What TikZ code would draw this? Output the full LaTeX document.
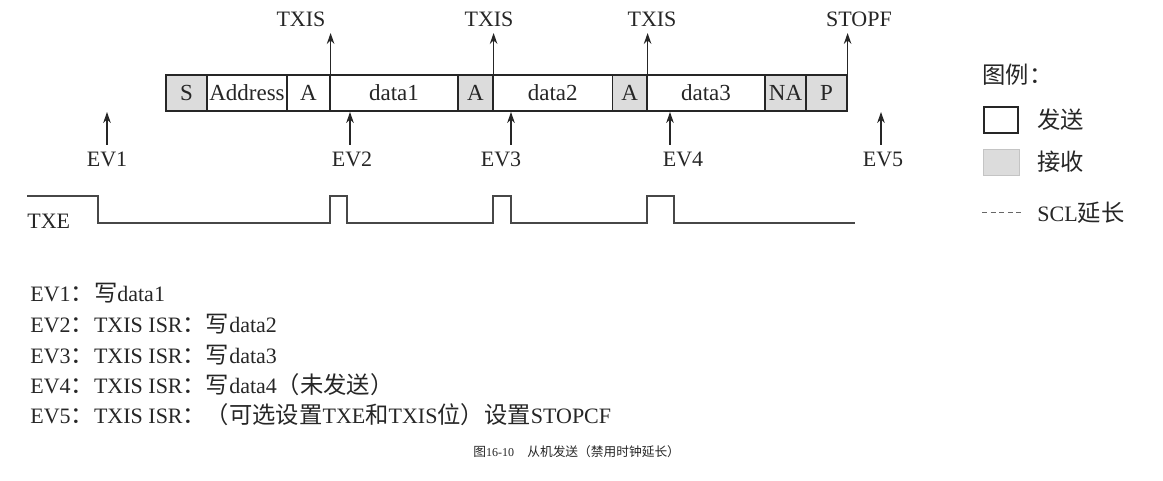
\documentclass[tikz,border=0pt]{standalone}
\usepackage{fontspec}
\setmainfont{Liberation Serif}
\newfontfamily\cjkfont[Scale=1.06]{Noto Sans CJK SC}
\newcommand\zh[1]{{\cjkfont #1}}
\usetikzlibrary{arrows.meta}
\definecolor{ink}{HTML}{262626}
\definecolor{rxgray}{HTML}{DCDCDC}
\definecolor{lightedge}{HTML}{C4C4C4}
\begin{document}
\begin{tikzpicture}[x=0.5pt,y=-0.5pt,
  font=\fontsize{11}{13}\selectfont, text=ink,
  cell/.style={draw=ink, line width=0.6pt, minimum height=18pt, inner sep=0pt, anchor=center, font=\fontsize{11.5}{13}\selectfont},
  txcell/.style={cell, fill=white},
  rxcell/.style={cell, fill=rxgray},
  arr/.style={draw=ink, line width=0.6pt, -{Stealth[length=5.5pt,width=3.8pt]}},
  lbl/.style={inner sep=0pt, anchor=base},
  leftlbl/.style={inner sep=0pt, anchor=base west},
  note/.style={leftlbl, font=\fontsize{11}{13}\selectfont},
  wave/.style={draw=ink!85, line width=0.6pt},
  dashline/.style={draw=ink!70, line width=0.5pt, dash pattern=on 2.5pt off 1.8pt},
]
\useasboundingbox (0,0) rectangle (1163,481);

% frame cells
\node[rxcell, minimum width=20.5pt]  (S)  at (186.5,93) {S};
\node[txcell, minimum width=40pt, line width=0.8pt] (Ad) at (247,93) {Address};
\node[txcell, minimum width=21.5pt]  (A1) at (308.5,93) {A};
\node[txcell, minimum width=64pt]    (D1) at (394,93) {data1};
\node[rxcell, minimum width=17.5pt]  (A2) at (475.5,93) {A};
\node[txcell, minimum width=59.75pt] (D2) at (552.75,93) {data2};
\node[rxcell, minimum width=17.25pt] (A3) at (629.75,93) {A};
\node[txcell, minimum width=59pt]    (D3) at (706,93) {data3};
\node[rxcell, minimum width=20.5pt]  (NA) at (785.5,93) {NA};
\node[rxcell, minimum width=20.5pt]  (P)  at (826.5,93) {P};

% top flags
\node[lbl] (T1) at (301,27) {TXIS};
\node[lbl] (T2) at (489,27) {TXIS};
\node[lbl] (T3) at (652,27) {TXIS};
\node[lbl] (T4) at (859,27) {STOPF};
\coordinate (tip) at (0,33);
\draw[arr] (A1.south east) -- (A1.south east |- tip);
\draw[arr] (A2.south east) -- (A2.south east |- tip);
\draw[arr] (A3.south east) -- (A3.south east |- tip);
\draw[arr] (P.north east) -- (P.north east |- tip);

% events
\node[lbl] (EV1) at (107,167) {EV1};
\node[lbl] (EV2) at (352,167) {EV2};
\node[lbl] (EV3) at (501,167) {EV3};
\node[lbl] (EV4) at (683,167) {EV4};
\node[lbl] (EV5) at (883,167) {EV5};
\coordinate (e1b) at (107,145); \coordinate (e1t) at (107,112);
\coordinate (e2b) at (350,145); \coordinate (e2t) at (350,112);
\coordinate (e3b) at (511,145); \coordinate (e3t) at (511,112);
\coordinate (e4b) at (670,145); \coordinate (e4t) at (670,112);
\coordinate (e5b) at (881,145); \coordinate (e5t) at (881,112);
\draw[arr] (e1b) -- (e1t);
\draw[arr] (e2b) -- (e2t);
\draw[arr] (e3b) -- (e3t);
\draw[arr] (e4b) -- (e4t);
\draw[arr] (e5b) -- (e5t);

% TXE waveform
\node[leftlbl] (TXE) at (27,228) {TXE};
\draw[wave] (27,196) -- (98,196) -- (98,223) -- (330,223) -- (330,196) -- (347,196)
  -- (347,223) -- (493,223) -- (493,196) -- (511,196) -- (511,223) -- (647,223)
  -- (647,196) -- (674,196) -- (674,223) -- (855,223);

% legend
\node[inner sep=0pt, anchor=west] (lgT) at (982,75) {\zh{图例：}};
\node[draw=ink, line width=0.6pt, minimum width=17pt, minimum height=13pt, inner sep=0pt] (lg1) at (1001,120) {};
\node[inner sep=0pt, anchor=west] (lg1t) at (1037,120) {\zh{发送}};
\node[draw=lightedge, line width=0.5pt, fill=rxgray, minimum width=18pt, minimum height=13pt, inner sep=0pt] (lg2) at (1001,163) {};
\node[inner sep=0pt, anchor=west] (lg2t) at (1037,162) {\zh{接收}};
\coordinate (lg3a) at (982,213); \coordinate (lg3b) at (1023,213);
\draw[dashline] (lg3a) -- (lg3b);
\node[inner sep=0pt, anchor=west] (lg3t) at (1037,213) {SCL\zh{延长}};

% notes
\node[note] (n1) at (30,301) {EV1\zh{：写}data1};
\node[note] (n2) at (30,332) {EV2\zh{：}TXIS ISR\zh{：写}data2};
\node[note] (n3) at (30,363) {EV3\zh{：}TXIS ISR\zh{：写}data3};
\node[note] (n4) at (30,393) {EV4\zh{：}TXIS ISR\zh{：写}data4\zh{（未发送）}};
\node[note] (n5) at (30,423) {EV5\zh{：}TXIS ISR\zh{：（可选设置}TXE\zh{和}TXIS\zh{位）设置}STOPCF};

% caption
\node[leftlbl, font=\fontsize{6}{7}\selectfont] (cap) at (473,456) {\zh{图}16-10\hspace{1.1em}\zh{从机发送（禁用时钟延长）}};
\end{tikzpicture}
\end{document}
